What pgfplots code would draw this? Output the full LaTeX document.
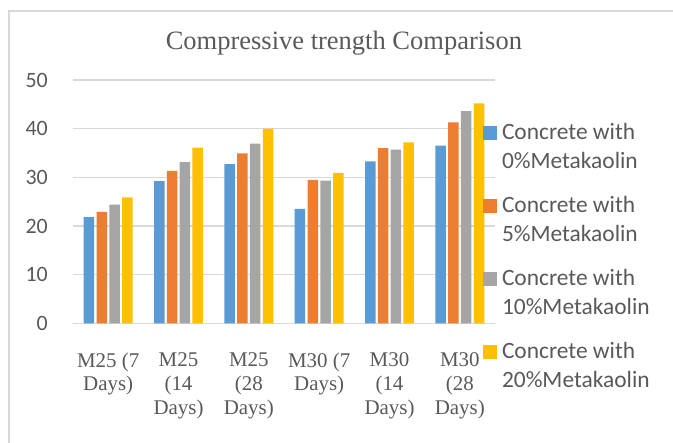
\documentclass[border=0pt]{standalone}
\usepackage{fontspec}
\setmainfont{Liberation Serif}
\newfontfamily\calibri{Carlito}
\usepackage{pgfplots}
\pgfplotsset{compat=1.18}
\definecolor{cblue}{HTML}{5B9BD5}
\definecolor{corange}{HTML}{ED7D31}
\definecolor{cgray}{HTML}{A5A5A5}
\definecolor{cyellow}{HTML}{FFC000}
\definecolor{gridgray}{HTML}{D9D9D9}
\definecolor{labgray}{HTML}{595959}
\newcommand{\twol}[2]{\vtop{\hbox{#1}\hbox{#2}}}
\begin{document}
\begin{tikzpicture}
\useasboundingbox (0,0) rectangle (673bp,443bp);
\draw[color=gridgray, line width=1.3bp] (9bp,0bp) -- (9bp,432bp) -- (673bp,432bp);
\begin{axis}[
  at={(73bp,119.7bp)}, anchor=south west,
  scale only axis, width=422bp, height=243.3bp,
  ybar=2.3bp, bar width=10.5bp,
  xmin=-0.5, xmax=5.5, ymin=0, ymax=50,
  xtick={0,1,2,3,4,5},
  xticklabels={{M25 (7\\Days)},{M25\\(14\\Days)},{M25\\(28\\Days)},{M30 (7\\Days)},{M30\\(14\\Days)},{M30\\(28\\Days)}},
  ytick={0,10,20,30,40,50},
  ymajorgrids, grid style={gridgray, line width=1.3bp},
  axis line style={draw=none},
  major tick length=0pt,
  /pgf/number format/assume math mode=true,
  yticklabel style={font=\calibri\fontsize{22}{26}\selectfont, text=labgray, inner sep=0pt, xshift=-25bp},
  xticklabel style={font=\fontsize{21}{24}\selectfont, text=labgray, align=center, inner sep=0pt, anchor=north, yshift=-29bp},
  title={Compressive trength Comparison},
  title style={at={(0.642,1.1028)}, anchor=base, font=\fontsize{26.6}{30}\selectfont, text=labgray, inner sep=0pt},
  legend image code/.code={\fill[#1] (0bp,-0.7bp) rectangle (14bp,13.3bp);},
  legend cell align=left,
  legend style={at={(0.9716,0.8237)}, anchor=north west, draw=none, fill=none, inner sep=0pt, outer sep=0pt,
    row sep=55.2bp, column sep=5bp,
    nodes={inner sep=0pt, outer sep=0pt, anchor=base west, font=\calibri\fontsize{23.5}{29.4}\selectfont, text=labgray}},
]
\addplot[fill=cblue, draw=none] coordinates {(0,21.8) (1,29.2) (2,32.7) (3,23.5) (4,33.3) (5,36.5)};
\addplot[fill=corange, draw=none] coordinates {(0,22.9) (1,31.3) (2,34.9) (3,29.5) (4,36.0) (5,41.3)};
\addplot[fill=cgray, draw=none] coordinates {(0,24.4) (1,33.1) (2,36.9) (3,29.3) (4,35.7) (5,43.6)};
\addplot[fill=cyellow, draw=none] coordinates {(0,25.9) (1,36.1) (2,40.0) (3,30.9) (4,37.2) (5,45.2)};
\legend{{\twol{Concrete with}{0\%Metakaolin}},{\twol{Concrete with}{5\%Metakaolin}},{\twol{Concrete with}{10\%Metakaolin}},{\twol{Concrete with}{20\%Metakaolin}}}
\end{axis}
\end{tikzpicture}
\end{document}
